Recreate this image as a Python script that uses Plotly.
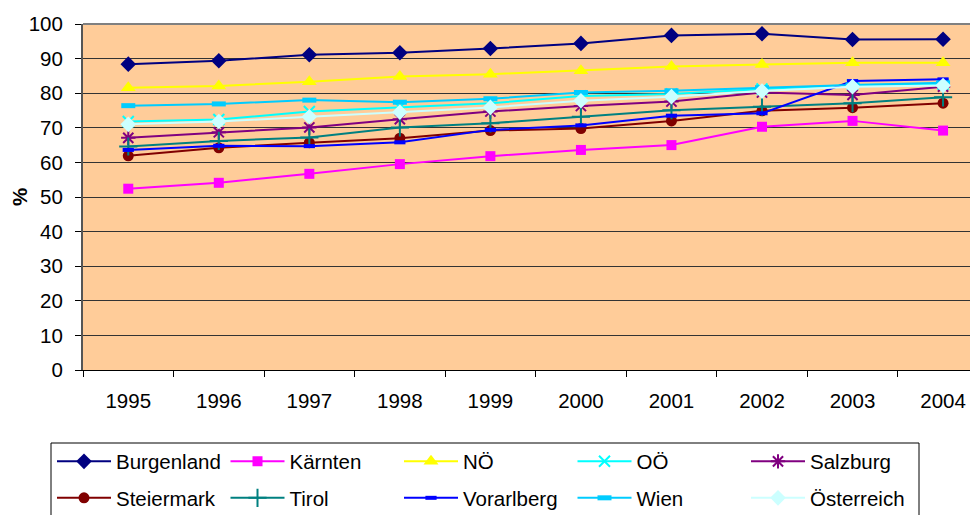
import plotly.graph_objects as go

years = ["1995", "1996", "1997", "1998", "1999", "2000", "2001", "2002", "2003", "2004"]

burgenland = [88.4, 89.4, 91.1, 91.7, 92.9, 94.4, 96.7, 97.2, 95.5, 95.6]
kaernten = [52.4, 54.1, 56.7, 59.5, 61.8, 63.6, 65.0, 70.3, 72.0, 69.2]
noe = [81.6, 82.1, 83.3, 84.8, 85.5, 86.5, 87.7, 88.3, 88.8, 88.8]
ooe = [71.8, 72.4, 74.7, 75.9, 77.1, 79.2, 79.8, 81.2, 82.4, 82.6]
salzburg = [67.1, 68.7, 70.1, 72.5, 74.7, 76.3, 77.6, 80.2, 79.5, 81.9]
steiermark = [61.9, 64.2, 65.7, 67.0, 69.2, 69.8, 72.0, 74.9, 75.8, 77.1]
tirol = [64.6, 66.2, 67.2, 70.1, 71.3, 73.2, 75.1, 76.1, 77.1, 78.8]
vorarlberg = [63.6, 64.8, 64.7, 65.8, 69.4, 70.7, 73.5, 74.2, 83.5, 84.0]
wien = [76.4, 76.9, 78.0, 77.4, 78.4, 80.2, 80.7, 81.6, 82.4, 83.0]
oesterreich = [71.0, 71.8, 73.2, 74.5, 75.9, 77.8, 79.0, 80.6, 81.9, 82.2]

series = [
    ("Burgenland", burgenland, "#000080", dict(symbol="diamond", size=12), "legend"),
    ("Kärnten", kaernten, "#FF00FF", dict(symbol="square", size=10), "legend"),
    ("NÖ", noe, "#FFFF00", dict(symbol="triangle-up", size=13), "legend"),
    ("OÖ", ooe, "#00FFFF", dict(symbol="x-thin-open", size=11, line=dict(width=2, color="#00FFFF")), "legend"),
    ("Salzburg", salzburg, "#800080", dict(symbol="asterisk-open", size=12, line=dict(width=2, color="#800080")), "legend"),
    ("Steiermark", steiermark, "#800000", dict(symbol="circle", size=11), "legend2"),
    ("Tirol", tirol, "#008080", dict(symbol="cross-thin-open", size=13, line=dict(width=2, color="#008080")), "legend2"),
    ("Vorarlberg", vorarlberg, "#0000FF", dict(symbol="line-ew-open", size=8, line=dict(width=4, color="#0000FF")), "legend2"),
    ("Wien", wien, "#00CCFF", dict(symbol="line-ew-open", size=10, line=dict(width=5, color="#00CCFF")), "legend2"),
    ("Österreich", oesterreich, "#CCFFFF", dict(symbol="diamond", size=12), "legend2"),
]

fig = go.Figure()
for name, vals, color, marker, leg in series:
    m = dict(color=color)
    m.update(marker)
    fig.add_trace(go.Scatter(
        x=years, y=vals, name=name, mode="lines+markers",
        line=dict(color=color, width=2), marker=m, legend=leg,
    ))

font = dict(family="Liberation Sans, Arial, sans-serif", size=20.5, color="#000000")

# page body has an 8px margin, so figure coords = screen coords - 8
FW, FH = 970, 507
L, T, W, H = 75, 16, 895, 346


def px_x(x):
    return (x - L) / W


def px_y(y):
    return 1 - (y - T) / H


fig.update_layout(
    width=FW, height=FH,
    margin=dict(l=L, r=FW - L - W, t=T, b=FH - T - H, autoexpand=False),
    paper_bgcolor="#FFFFFF",
    plot_bgcolor="#FFCC99",
    font=font,
    xaxis=dict(
        type="category", range=[-0.5, 9.386], automargin=False,
        showgrid=False, ticks="outside", ticklen=6, tickcolor="#000000",
        tickson="boundaries", showline=True, linecolor="#000000", linewidth=1,
        mirror=False, ticklabelstandoff=12, tickfont=font,
    ),
    yaxis=dict(
        range=[0, 100], dtick=10, ticks="outside", ticklen=6, tickcolor="#000000",
        showgrid=True, gridcolor="#333333", gridwidth=1, automargin=False,
        showline=True, linecolor="#555555", linewidth=2, zeroline=False,
        ticklabelstandoff=8, tickfont=font,
        title=dict(text="<b>%</b>", font=font, standoff=10),
    ),
    legend=dict(
        orientation="h", x=px_x(44), xanchor="left",
        y=px_y(433.5), yanchor="top",
        entrywidth=104.5, entrywidthmode="pixels", itemwidth=54,
        bgcolor="rgba(0,0,0,0)", borderwidth=0, font=font, traceorder="normal",
    ),
    legend2=dict(
        orientation="h", x=px_x(44), xanchor="left",
        y=px_y(470), yanchor="top",
        entrywidth=104.5, entrywidthmode="pixels", itemwidth=54,
        bgcolor="rgba(0,0,0,0)", borderwidth=0, font=font, traceorder="normal",
    ),
    showlegend=True,
)

# plot-area top border and legend box
fig.add_shape(type="line", xref="paper", yref="paper", x0=0, x1=1, y0=1, y1=1,
              line=dict(color="#808080", width=2))
fig.add_shape(type="rect", xref="paper", yref="paper",
              x0=px_x(43), x1=px_x(911),
              y0=px_y(435), y1=px_y(522),
              line=dict(color="#000000", width=1), fillcolor="rgba(0,0,0,0)", layer="below")

fig.write_html("out.html")
